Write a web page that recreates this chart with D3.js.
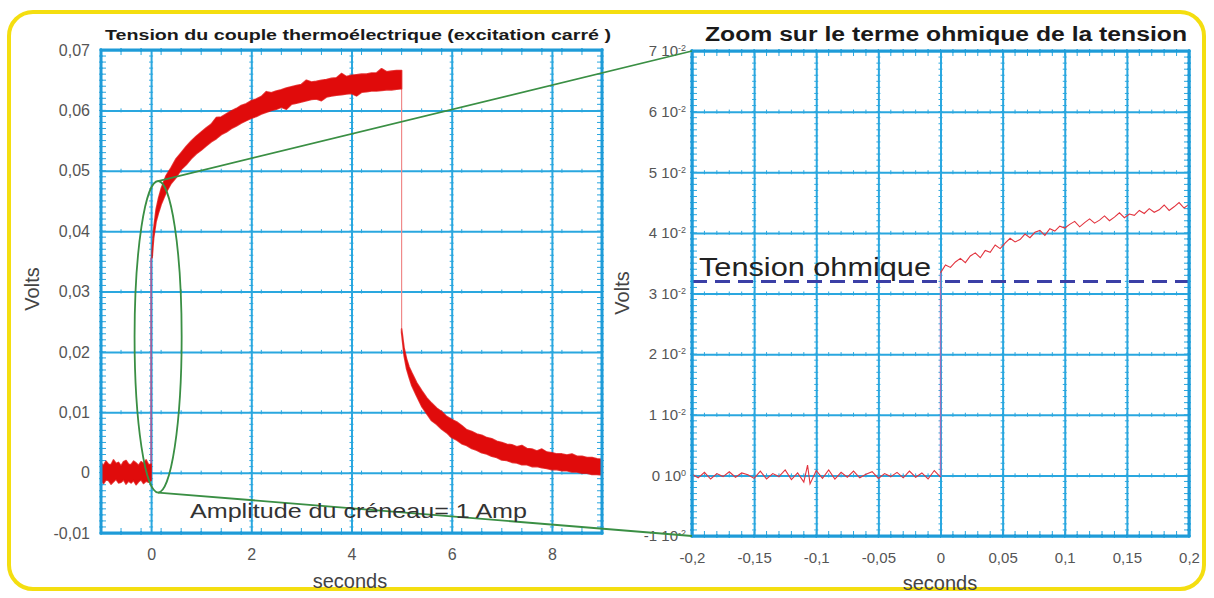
<!DOCTYPE html>
<html>
<head>
<meta charset="utf-8">
<script src="https://cdn.jsdelivr.net/npm/d3@7"></script>
<style>
  body { margin: 0; background: #fff; }
  svg { display: block; }
</style>
</head>
<body>
<svg id="chart" width="1214" height="598"></svg>
<script>
// ---------- Thermocouple response to a 1 A square step (min/max envelope of the trace) ----------
// before the step
const preT  = [-1, -0.95, -0.9, -0.85, -0.8, -0.75, -0.7, -0.65, -0.6, -0.55, -0.5, -0.45, -0.4, -0.35, -0.3, -0.25, -0.2, -0.15, -0.1, -0.05, 0];
const preHi = [0.0016, 0.0012, 0.0019, 0.0014, 0.0013, 0.0021, 0.0015, 0.0017, 0.0011, 0.0018, 0.0020, 0.0014, 0.0013, 0.0019, 0.0016, 0.0012, 0.0018, 0.0015, 0.0021, 0.0013, 0.0014];
const preLo = [-0.0014, -0.0018, -0.0012, -0.0013, -0.0019, -0.0015, -0.0011, -0.0017, -0.0016, -0.0012, -0.0019, -0.0014, -0.0017, -0.0013, -0.0020, -0.0015, -0.0012, -0.0018, -0.0014, -0.0016, -0.0013];

// current on: ohmic jump then heating
const riseT  = [0.02, 0.05, 0.1, 0.15, 0.2, 0.3, 0.4, 0.5, 0.6, 0.7, 0.8, 0.9, 1.0, 1.1, 1.2, 1.3, 1.4, 1.5, 1.6, 1.7, 1.8, 1.9, 2.0, 2.1, 2.2, 2.3, 2.4, 2.5, 2.6, 2.7, 2.8, 2.9, 3.0, 3.1, 3.2, 3.3, 3.4, 3.5, 3.6, 3.7, 3.8, 3.9, 4.0, 4.1, 4.2, 4.3, 4.4, 4.5, 4.6, 4.7, 4.8, 4.9, 5.0];
const riseHi = [0.0364, 0.0402, 0.0436, 0.0455, 0.0470, 0.0492, 0.0505, 0.0520, 0.0530, 0.0540, 0.0549, 0.0557, 0.0564, 0.0571, 0.0577, 0.0588, 0.0589, 0.0594, 0.0599, 0.0603, 0.0608, 0.0611, 0.0616, 0.0619, 0.0623, 0.0631, 0.0629, 0.0632, 0.0634, 0.0637, 0.0639, 0.0641, 0.0643, 0.0650, 0.0647, 0.0648, 0.0650, 0.0651, 0.0653, 0.0654, 0.0661, 0.0656, 0.0658, 0.0659, 0.0660, 0.0660, 0.0662, 0.0662, 0.0669, 0.0664, 0.0665, 0.0666, 0.0666];
const riseLo = [0.0356, 0.0388, 0.0416, 0.0431, 0.0444, 0.0464, 0.0479, 0.0489, 0.0502, 0.0510, 0.0520, 0.0528, 0.0534, 0.0541, 0.0548, 0.0553, 0.0560, 0.0564, 0.0570, 0.0574, 0.0579, 0.0583, 0.0587, 0.0590, 0.0594, 0.0597, 0.0600, 0.0602, 0.0605, 0.0602, 0.0610, 0.0612, 0.0614, 0.0616, 0.0618, 0.0619, 0.0616, 0.0622, 0.0624, 0.0625, 0.0626, 0.0627, 0.0628, 0.0624, 0.0630, 0.0631, 0.0632, 0.0632, 0.0633, 0.0634, 0.0634, 0.0635, 0.0636];

// current off: cooling
const decayT  = [5.0, 5.05, 5.1, 5.15, 5.2, 5.3, 5.4, 5.5, 5.6, 5.7, 5.8, 5.9, 6.0, 6.1, 6.2, 6.3, 6.4, 6.5, 6.6, 6.7, 6.8, 6.9, 7.0, 7.1, 7.2, 7.3, 7.4, 7.5, 7.6, 7.7, 7.8, 7.9, 8.0, 8.1, 8.2, 8.3, 8.4, 8.5, 8.6, 8.7, 8.8, 8.9, 9.0];
const decayHi = [0.0238, 0.0206, 0.0188, 0.0175, 0.0166, 0.0149, 0.0136, 0.0124, 0.0115, 0.0107, 0.0101, 0.0093, 0.0088, 0.0084, 0.0078, 0.0071, 0.0068, 0.0064, 0.0062, 0.0058, 0.0056, 0.0052, 0.0050, 0.0047, 0.0046, 0.0043, 0.0045, 0.0040, 0.0039, 0.0036, 0.0039, 0.0034, 0.0033, 0.0031, 0.0031, 0.0029, 0.0031, 0.0027, 0.0027, 0.0025, 0.0025, 0.0023, 0.0022];
const decayLo = [0.0232, 0.0194, 0.0172, 0.0158, 0.0145, 0.0127, 0.0110, 0.0098, 0.0086, 0.0080, 0.0072, 0.0066, 0.0058, 0.0054, 0.0048, 0.0045, 0.0040, 0.0037, 0.0033, 0.0031, 0.0027, 0.0025, 0.0021, 0.0020, 0.0017, 0.0016, 0.0013, 0.0013, 0.0010, 0.0010, 0.0008, 0.0007, 0.0005, 0.0005, 0.0003, 0.0003, 0.0001, 0.0001, -0.0001, -0.0001, -0.0003, -0.0003, -0.0004];

// ---------- Zoom on the step (single trace) ----------
const zoomPreT = [-0.2, -0.195, -0.19, -0.185, -0.18, -0.175, -0.17, -0.165, -0.16, -0.155, -0.15, -0.145, -0.14, -0.135, -0.13, -0.125, -0.12, -0.115, -0.11, -0.107, -0.105, -0.1, -0.095, -0.09, -0.085, -0.08, -0.075, -0.07, -0.065, -0.06, -0.055, -0.05, -0.045, -0.04, -0.035, -0.03, -0.025, -0.02, -0.015, -0.01, -0.005, 0];
const zoomPreV = [0.0002, -0.0004, 0.0005, -0.0006, 0.0003, -0.0002, 0.0006, -0.0003, 0.0004, 0.0001, -0.0005, 0.0007, -0.0006, 0.0003, -0.0002, 0.0009, -0.0007, 0.0004, -0.0011, 0.0017, -0.0014, 0.0008, -0.0005, 0.0009, -0.0006, 0.0005, -0.0003, 0.0007, -0.0004, 0.0002, 0.0006, -0.0005, 0.0003, -0.0002, 0.0005, -0.0004, 0.0007, -0.0003, 0.0004, -0.0006, 0.0008, -0.0003];
const zoomPostT = [0, 0.004, 0.008, 0.012, 0.016, 0.02, 0.024, 0.028, 0.032, 0.036, 0.04, 0.044, 0.048, 0.052, 0.056, 0.06, 0.064, 0.068, 0.072, 0.076, 0.08, 0.084, 0.088, 0.092, 0.096, 0.1, 0.104, 0.108, 0.112, 0.116, 0.12, 0.124, 0.128, 0.132, 0.136, 0.14, 0.144, 0.148, 0.152, 0.156, 0.16, 0.164, 0.168, 0.172, 0.176, 0.18, 0.184, 0.188, 0.192, 0.196, 0.2];
const zoomPostV = [0.0334, 0.0347, 0.0343, 0.0352, 0.0358, 0.0351, 0.0362, 0.0367, 0.0359, 0.0371, 0.0368, 0.0380, 0.0374, 0.0383, 0.0391, 0.0385, 0.0389, 0.0398, 0.0392, 0.0401, 0.0404, 0.0396, 0.0407, 0.0403, 0.0411, 0.0408, 0.0414, 0.0419, 0.0410, 0.0417, 0.0423, 0.0416, 0.0421, 0.0428, 0.0420, 0.0426, 0.0433, 0.0425, 0.0431, 0.0429, 0.0437, 0.0432, 0.0440, 0.0434, 0.0438, 0.0446, 0.0437, 0.0443, 0.0450, 0.0441, 0.0447];
const ohmicVoltage = 0.032;

// ---------- Axes ----------
const leftXTicks  = [0, 2, 4, 6, 8];
const leftYTicks  = [-0.01, 0, 0.01, 0.02, 0.03, 0.04, 0.05, 0.06, 0.07];
const rightXTicks = [-0.2, -0.15, -0.1, -0.05, 0, 0.05, 0.1, 0.15, 0.2];
const rightYTicks = [-0.01, 0, 0.01, 0.02, 0.03, 0.04, 0.05, 0.06, 0.07];

// zoomed region on the left trace (centre and half extents, in data units)
const zoomArea = { t: 0.14, v: 0.0225, dt: 0.47, dv: 0.0258 };

// ---------- Drawing ----------
const FONT = '"Liberation Sans", Arial, Helvetica, sans-serif';
const GRID = "#2aa7df";
const FRAME = "#1e9bd8";
const RED = "#e00b0b";
const GREEN = "#3a8f44";

const svg = d3.select("#chart");

const leftBox  = { x0: 101, x1: 602, y0: 50, y1: 533 };
const rightBox = { x0: 692, x1: 1189, y0: 51, y1: 536 };

const xL = d3.scaleLinear().domain([-1, 9]).range([leftBox.x0, leftBox.x1]);
const yL = d3.scaleLinear().domain([-0.01, 0.07]).range([leftBox.y1, leftBox.y0]);
const xR = d3.scaleLinear().domain([-0.2, 0.2]).range([rightBox.x0, rightBox.x1]);
const yR = d3.scaleLinear().domain([-0.01, 0.07]).range([rightBox.y1, rightBox.y0]);

// rounded yellow card
svg.append("rect")
  .attr("x", 9).attr("y", 12).attr("width", 1195).attr("height", 577)
  .attr("rx", 24).attr("fill", "#fff")
  .attr("stroke", "#f4de10").attr("stroke-width", 4);

const commaFmt = v => String(+v.toFixed(3)).replace(".", ",");

function drawGrid(box, x, y, xt, yt, fx, fy, xMinor, yMinor, yPad, fs) {
  const g = svg.append("g");
  const ax = g.append("g")
    .attr("transform", `translate(0,${box.y1})`)
    .call(d3.axisBottom(x).tickValues(xt).tickSize(-(box.y1 - box.y0)).tickPadding(16).tickFormat(fx));
  const ay = g.append("g")
    .attr("transform", `translate(${box.x0},0)`)
    .call(d3.axisLeft(y).tickValues(yt).tickSize(-(box.x1 - box.x0)).tickPadding(yPad).tickFormat(fy));
  [ax, ay].forEach(a => {
    a.select(".domain").remove();
    a.selectAll(".tick line").attr("stroke", GRID).attr("stroke-width", 2);
    a.selectAll(".tick text").attr("font-family", FONT).attr("font-size", fs).attr("fill", "#555");
  });

  // minor ticks along the frame and along each major grid line
  const m = g.append("g").attr("stroke", GRID).attr("stroke-width", 1);
  const xLines = [box.x0, box.x1].concat(xt.map(x));
  const yLines = [box.y0, box.y1].concat(yt.map(y));
  yMinor.forEach(v => {
    const py = y(v);
    m.append("line").attr("x1", box.x0).attr("x2", box.x0 + 5).attr("y1", py).attr("y2", py);
    m.append("line").attr("x1", box.x1 - 5).attr("x2", box.x1).attr("y1", py).attr("y2", py);
    xLines.forEach(px => m.append("line").attr("x1", px - 2).attr("x2", px + 2).attr("y1", py).attr("y2", py));
  });
  xMinor.forEach(v => {
    const px = x(v);
    m.append("line").attr("x1", px).attr("x2", px).attr("y1", box.y1).attr("y2", box.y1 - 5);
    m.append("line").attr("x1", px).attr("x2", px).attr("y1", box.y0).attr("y2", box.y0 + 5);
    yLines.forEach(py => m.append("line").attr("x1", px).attr("x2", px).attr("y1", py - 2).attr("y2", py + 2));
  });
  return { ax, ay };
}

function drawFrame(box) {
  svg.append("rect")
    .attr("x", box.x0).attr("y", box.y0)
    .attr("width", box.x1 - box.x0).attr("height", box.y1 - box.y0)
    .attr("fill", "none").attr("stroke", FRAME).attr("stroke-width", 3);
}

// ----- left panel -----
drawGrid(leftBox, xL, yL, leftXTicks, leftYTicks,
  d => String(d), commaFmt,
  d3.range(-1, 9.001, 0.4), d3.range(-0.01, 0.0701, 0.001), 11, 16);

const band = d3.area()
  .x(d => xL(d.t)).y0(d => yL(d.lo)).y1(d => yL(d.hi));
const segs = [
  [preT, preHi, preLo],
  [riseT, riseHi, riseLo],
  [decayT, decayHi, decayLo]
].map(([t, hi, lo]) => t.map((tt, i) => ({ t: tt, hi: hi[i], lo: lo[i] })));

// step edges (thin vertical strokes of the trace)
svg.append("line")
  .attr("x1", xL(0)).attr("x2", xL(0))
  .attr("y1", yL(0)).attr("y2", yL(riseLo[0]))
  .attr("stroke", "#a85a98").attr("stroke-width", 1.6);
svg.append("line")
  .attr("x1", xL(5)).attr("x2", xL(5))
  .attr("y1", yL(riseLo[riseLo.length - 1])).attr("y2", yL(decayHi[0]))
  .attr("stroke", "#f08a8a").attr("stroke-width", 1.2);

svg.append("g").selectAll("path").data(segs).join("path")
  .attr("d", band)
  .attr("fill", RED).attr("stroke", RED).attr("stroke-width", 1.6)
  .attr("stroke-linejoin", "round").attr("stroke-opacity", 0.8);

drawFrame(leftBox);

// ----- right panel -----
const rg = drawGrid(rightBox, xR, yR, rightXTicks, rightYTicks,
  commaFmt, d => "",
  d3.range(-0.2, 0.2001, 0.01), d3.range(-0.01, 0.0701, 0.001), 6, 15);

// "n 10^-2" style labels
rg.ay.selectAll(".tick text").each(function (d) {
  const t = d3.select(this);
  const mant = Math.round(d * 100);
  t.text(null).attr("font-size", 15);
  t.append("tspan").text(mant + " 10");
  t.append("tspan").attr("dy", "-0.55em").attr("font-size", 9).text(mant === 0 ? "0" : "-2");
});

const zoomLine = d3.line().x(d => xR(d.t)).y(d => yR(d.v));
const zoomPre = zoomPreT.map((t, i) => ({ t, v: zoomPreV[i] }));
const zoomPost = zoomPostT.map((t, i) => ({ t, v: zoomPostV[i] }));

// the step itself, drawn faint over the zero grid line
svg.append("path")
  .attr("d", zoomLine([zoomPre[zoomPre.length - 1], zoomPost[0]]))
  .attr("fill", "none").attr("stroke", "#a070b8").attr("stroke-width", 1.4);
svg.append("g").selectAll("path").data([zoomPre, zoomPost]).join("path")
  .attr("d", zoomLine)
  .attr("fill", "none").attr("stroke", "#e2343f").attr("stroke-width", 1.1);

// ohmic level
svg.append("line")
  .attr("x1", rightBox.x0).attr("x2", rightBox.x1)
  .attr("y1", yR(ohmicVoltage)).attr("y2", yR(ohmicVoltage))
  .attr("stroke", "#3b3fa6").attr("stroke-width", 3).attr("stroke-dasharray", "15,8");

drawFrame(rightBox);

svg.append("text")
  .attr("x", 699).attr("y", yR(ohmicVoltage) - 5)
  .attr("font-family", FONT).attr("font-size", 26).attr("fill", "#222")
  .attr("textLength", 232).attr("lengthAdjust", "spacingAndGlyphs")
  .text("Tension ohmique");

// ----- zoom annotation -----
const ell = {
  cx: xL(zoomArea.t), cy: yL(zoomArea.v),
  rx: xL(zoomArea.t + zoomArea.dt) - xL(zoomArea.t),
  ry: yL(zoomArea.v - zoomArea.dv) - yL(zoomArea.v)
};
svg.append("ellipse")
  .attr("cx", ell.cx).attr("cy", ell.cy).attr("rx", ell.rx).attr("ry", ell.ry)
  .attr("fill", "none").attr("stroke", GREEN).attr("stroke-width", 1.8);
svg.append("line")
  .attr("x1", ell.cx).attr("y1", ell.cy - ell.ry)
  .attr("x2", rightBox.x0).attr("y2", rightBox.y0)
  .attr("stroke", GREEN).attr("stroke-width", 1.8);
svg.append("line")
  .attr("x1", ell.cx).attr("y1", ell.cy + ell.ry)
  .attr("x2", rightBox.x0).attr("y2", rightBox.y1)
  .attr("stroke", GREEN).attr("stroke-width", 1.8);

svg.append("text")
  .attr("x", 190).attr("y", 518)
  .attr("font-family", FONT).attr("font-size", 21).attr("fill", "#333")
  .attr("textLength", 337).attr("lengthAdjust", "spacingAndGlyphs")
  .text("Amplitude du créneau= 1 Amp");

// ----- titles and axis names -----
svg.append("text")
  .attr("x", 105).attr("y", 40)
  .attr("font-family", FONT).attr("font-weight", "bold").attr("font-size", 15).attr("fill", "#1a1a1a")
  .attr("textLength", 506).attr("lengthAdjust", "spacingAndGlyphs")
  .text("Tension du couple thermoélectrique (excitation carré )");
svg.append("text")
  .attr("x", 705).attr("y", 41)
  .attr("font-family", FONT).attr("font-weight", "bold").attr("font-size", 20).attr("fill", "#1a1a1a")
  .attr("textLength", 482).attr("lengthAdjust", "spacingAndGlyphs")
  .text("Zoom sur le terme ohmique de la tension");

[[32, 289], [622, 293]].forEach(([cx, cy]) => {
  svg.append("text")
    .attr("transform", `translate(${cx},${cy}) rotate(-90)`)
    .attr("text-anchor", "middle").attr("dy", "0.35em")
    .attr("font-family", FONT).attr("font-size", 20).attr("fill", "#444")
    .text("Volts");
});
[[350, 581], [940, 583]].forEach(([cx, cy]) => {
  svg.append("text")
    .attr("x", cx).attr("y", cy).attr("text-anchor", "middle").attr("dy", "0.35em")
    .attr("font-family", FONT).attr("font-size", 20).attr("fill", "#444")
    .text("seconds");
});
</script>
</body>
</html>
